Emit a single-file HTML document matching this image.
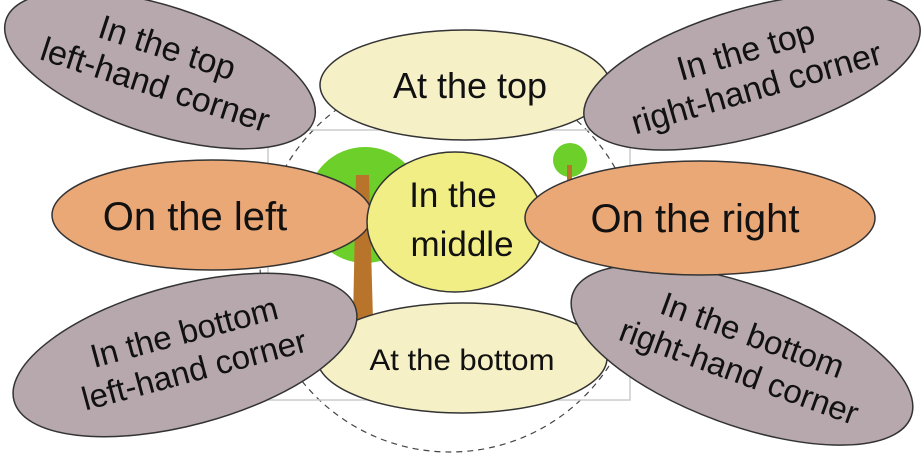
<!DOCTYPE html>
<html><head><meta charset="utf-8"><style>
html,body{margin:0;padding:0;background:#fff;}
svg{display:block;font-family:"Liberation Sans",sans-serif;}
</style></head><body>
<svg width="924" height="471" viewBox="0 0 924 471">
  <circle cx="450" cy="262" r="190" fill="none" stroke="#444" stroke-width="1.2" stroke-dasharray="6,5"/>
  <rect x="268" y="130" width="362" height="270" fill="none" stroke="#ccc" stroke-width="1.5"/>
  <g>
    <circle cx="365" cy="205" r="58" fill="#6ccf2a"/>
    <path d="M356 175 L369 175 L373 320 L380 335 L348 335 L353 320 Z" fill="#b8742a"/>
  </g>
  <g>
    <circle cx="570" cy="160" r="17" fill="#6ccf2a"/>
    <rect x="567" y="165" width="5" height="20" fill="#b8742a"/>
  </g>

  <g>
    <ellipse cx="160" cy="70" rx="162" ry="64" transform="rotate(18 160 70)" fill="#b6a8ad" stroke="#333" stroke-width="1.5"/>
    <text transform="rotate(18 160 70)" x="160" y="58" text-anchor="middle" font-size="34" fill="#111">In the top</text>
    <text transform="rotate(18 160 70)" x="160" y="97" text-anchor="middle" font-size="34" fill="#111">left-hand corner</text>
  </g>
  <g>
    <ellipse cx="465" cy="85" rx="145" ry="55" fill="#f6f0c6" stroke="#333" stroke-width="1.5"/>
    <text x="470" y="98" text-anchor="middle" font-size="36" fill="#111">At the top</text>
  </g>
  <g>
    <ellipse cx="752" cy="72" rx="174" ry="64" transform="rotate(-16 752 72)" fill="#b6a8ad" stroke="#333" stroke-width="1.5"/>
    <text transform="rotate(-16 752 72)" x="752" y="61" text-anchor="middle" font-size="34" fill="#111">In the top</text>
    <text transform="rotate(-16 752 72)" x="752" y="100" text-anchor="middle" font-size="34" fill="#111">right-hand corner</text>
  </g>
  <g>
    <ellipse cx="462" cy="358" rx="145" ry="55" fill="#f6f0c6" stroke="#333" stroke-width="1.5"/>
    <text x="462" y="370" text-anchor="middle" font-size="30" fill="#111" textLength="185" lengthAdjust="spacingAndGlyphs">At the bottom</text>
  </g>
  <g>
    <ellipse cx="185" cy="355" rx="177" ry="70" transform="rotate(-15 185 355)" fill="#b6a8ad" stroke="#333" stroke-width="1.5"/>
    <text transform="rotate(-15 185 355)" x="190" y="344" text-anchor="middle" font-size="33" fill="#111">In the bottom</text>
    <text transform="rotate(-15 185 355)" x="190" y="383" text-anchor="middle" font-size="33" fill="#111">left-hand corner</text>
  </g>
  <g>
    <ellipse cx="742" cy="355" rx="180" ry="70" transform="rotate(20 742 355)" fill="#b6a8ad" stroke="#333" stroke-width="1.5"/>
    <text transform="rotate(20 742 355)" x="745" y="344" text-anchor="middle" font-size="33" fill="#111">In the bottom</text>
    <text transform="rotate(20 742 355)" x="745" y="383" text-anchor="middle" font-size="33" fill="#111">right-hand corner</text>
  </g>
  <g>
    <ellipse cx="212" cy="215" rx="160" ry="55" fill="#eba877" stroke="#333" stroke-width="1.5"/>
    <text x="195" y="230" text-anchor="middle" font-size="40" fill="#111">On the left</text>
  </g>
  <g>
    <ellipse cx="455" cy="222" rx="88" ry="70" fill="#f2ee86" stroke="#333" stroke-width="1.5"/>
    <text x="453" y="207" text-anchor="middle" font-size="35" fill="#111">In the</text>
    <text x="462" y="256" text-anchor="middle" font-size="35" fill="#111">middle</text>
  </g>
  <g>
    <ellipse cx="700" cy="218" rx="175" ry="57" fill="#eba877" stroke="#333" stroke-width="1.5"/>
    <text x="695" y="232" text-anchor="middle" font-size="40" fill="#111">On the right</text>
  </g>
</svg>
</body></html>
